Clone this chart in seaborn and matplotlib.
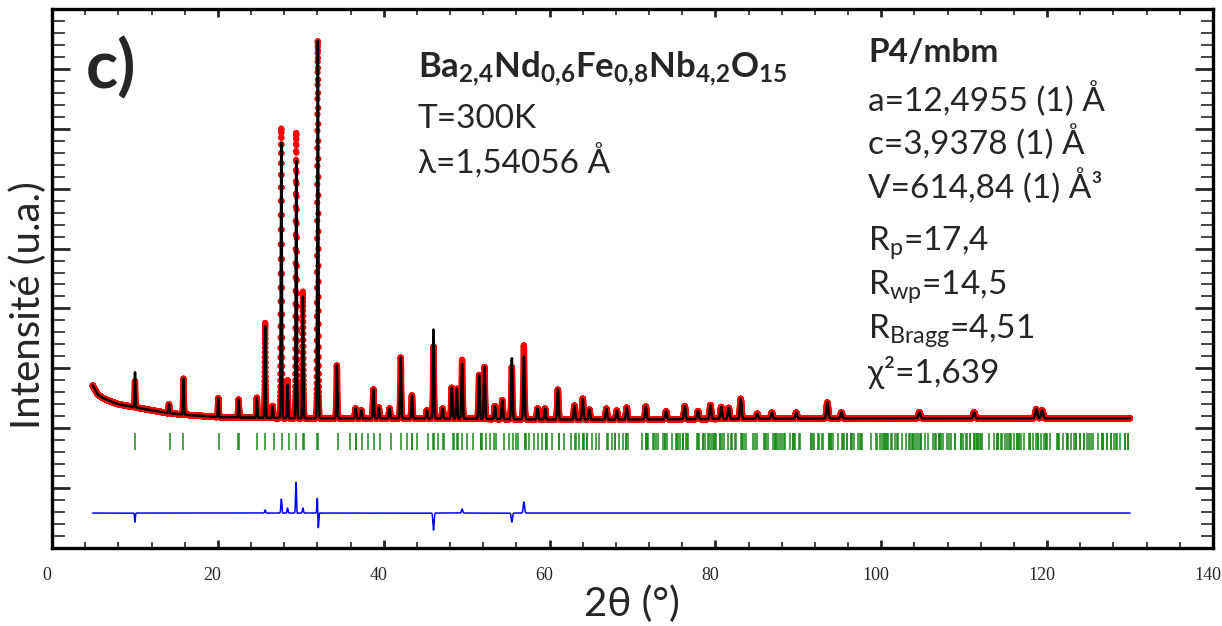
import numpy as np
import pandas as pd
import matplotlib
matplotlib.use("Agg")
import matplotlib.pyplot as plt
import matplotlib.transforms as mtransforms
from matplotlib.ticker import MultipleLocator
import seaborn as sns

# background (2theta in deg, counts)
bg_tt = [4.9, 5.5, 6.0, 7.0, 8.0, 10.0, 12.0, 14.0, 17.0, 20.0, 30.0, 45.0, 60.0, 70.0, 85.0, 100.0, 130.0]
bg_counts = [3430, 3130, 3030, 2900, 2800, 2700, 2600, 2500, 2430, 2370, 2330, 2330, 2290, 2290, 2320, 2330, 2330]

# peaks: position, calculated height, observed height (counts above background)
peak_pos = [10.0, 14.1, 15.85, 20.05, 22.5, 24.7, 25.7, 26.6, 27.65, 28.4,
            29.45, 30.25, 32.05, 34.35, 36.6, 37.3, 38.75, 39.4, 40.7, 42.05,
            43.4, 45.2, 46.0, 47.1, 48.2, 48.8, 49.45, 51.5, 52.15, 53.4,
            54.3, 55.45, 56.9, 58.55, 59.45, 61.0, 63.0, 64.0, 64.8, 66.85,
            68.1, 69.3, 71.6, 74.05, 76.3, 77.9, 79.4, 80.7, 81.6, 83.05,
            85.05, 86.8, 89.75, 93.5, 95.2, 104.6, 111.2, 118.7, 119.4]
calc_h = [1167, 300, 1200, 633, 600, 667, 3067, 400, 9200, 1100,
          8600, 4067, 12600, 1767, 333, 267, 967, 367, 333, 2033,
          767, 267, 2967, 333, 1033, 1000, 1833, 1467, 1733, 433,
          633, 2033, 2100, 367, 367, 1000, 467, 700, 333, 367,
          300, 400, 433, 267, 433, 267, 467, 400, 367, 667,
          167, 200, 200, 533, 200, 200, 200, 300, 267]
obs_h = [867, 300, 1200, 633, 600, 667, 3167, 400, 9667, 1267,
         9533, 4233, 12600, 1767, 333, 267, 967, 367, 333, 2033,
         767, 267, 2400, 333, 1033, 1000, 1967, 1467, 1733, 433,
         633, 1733, 2467, 367, 367, 1000, 467, 700, 333, 367,
         300, 400, 433, 267, 433, 267, 467, 400, 367, 667,
         167, 200, 200, 533, 200, 200, 200, 300, 267]
# small position misfit of the observed peaks (deg)
obs_shift = {32.05: -0.004, 29.45: -0.003}

# cell printed on the chart, used for the Bragg positions (P4/mbm)
a_cell, c_cell, wavelength = 12.4955, 3.9378, 1.54056
diff_offset = -833

bragg = []
for h in range(0, 16):
    for k in range(0, h + 1):
        for l in range(0, 6):
            if h == 0 and k == 0 and l == 0:
                continue
            if k == 0 and h % 2:   # h0l: h = 2n
                continue
            s = wavelength * np.sqrt((h * h + k * k) / a_cell ** 2 + l * l / c_cell ** 2) / 2
            if s < 1:
                tt = 2 * np.degrees(np.arcsin(s))
                if tt <= 130:
                    bragg.append(tt)

# profile
tt = np.arange(4.9, 130.0, 0.005)
background = np.interp(tt, bg_tt, bg_counts)
calc = background.copy()
obs = background.copy()
for p, hc, ho in zip(peak_pos, calc_h, obs_h):
    sig = 0.04 + 0.0007 * p
    calc += hc * np.exp(-0.5 * ((tt - p) / sig) ** 2)
    po = p + obs_shift.get(p, 0.0)
    obs += ho * np.exp(-0.5 * ((tt - po) / sig) ** 2)

df = pd.DataFrame({"tt": tt, "obs": obs, "calc": calc, "diff": obs - calc + diff_offset})

sns.set_style("ticks")
plt.rcParams["font.family"] = ["Lato", "Noto Sans", "DejaVu Sans"]
plt.rcParams["mathtext.fontset"] = "custom"
plt.rcParams["mathtext.rm"] = "Lato"
plt.rcParams["mathtext.it"] = "Lato:italic"
plt.rcParams["mathtext.bf"] = "Lato:bold"

fig = plt.figure(figsize=(12.22, 6.26), dpi=100)
ax = fig.add_axes([0.0426, 0.1246, 0.950, 0.861])

sns.scatterplot(data=df, x="tt", y="obs", s=20, color="red", edgecolor="none",
                linewidth=0, ax=ax, zorder=2)
sns.lineplot(data=df, x="tt", y="calc", color="black", lw=1.8, ax=ax, zorder=3,
             estimator=None)
sns.lineplot(data=df, x="tt", y="diff", color="blue", lw=1.1, ax=ax, zorder=3,
             estimator=None)
ax.vlines(bragg, 1267, 1833, color="#1a8c1a", lw=1.1, zorder=2)

ax.set_xlim(0, 140)
ax.set_ylim(-2000, 16000)
ax.xaxis.set_major_locator(MultipleLocator(20))
ax.xaxis.set_minor_locator(MultipleLocator(4))
ax.yaxis.set_major_locator(MultipleLocator(2000))
ax.yaxis.set_minor_locator(MultipleLocator(400))
ax.tick_params(axis="x", which="major", direction="in", length=6, width=2,
               top=True, bottom=True, pad=14, labelsize=13,
               labelfontfamily="Liberation Serif")
ax.tick_params(axis="x", which="minor", direction="in", length=4, width=1.2,
               top=True, bottom=True)
ax.tick_params(axis="y", which="major", direction="in", length=13, width=2,
               left=True, right=True, labelleft=False)
ax.tick_params(axis="y", which="minor", direction="in", length=9, width=1.2,
               left=True, right=True)
for sp in ax.spines.values():
    sp.set_linewidth(2.4)
    sp.set_color("black")
ax.set_xlabel("")
ax.set_ylabel("")

# the tick labels sit a little left of their ticks in the original
shift = mtransforms.ScaledTranslation(-0.055, 0, fig.dpi_scale_trans)
for lab in ax.xaxis.get_majorticklabels():
    lab.set_transform(lab.get_transform() + shift)


def fx(x):
    return x / 1222


def fy(y):
    return 1 - y / 626


fig.text(fx(632), fy(604), "2θ (°)", fontsize=29, ha="center", va="center")
fig.text(fx(28), fy(305), "Intensité (u.a.)", fontsize=29, ha="center", va="center",
         rotation=90)
fig.text(fx(86), fy(88), "c)", fontsize=48, fontweight="bold", ha="left", va="baseline")

fs = 24
fig.text(fx(418), fy(78),
         r"$\mathbf{Ba_{2{,}4}Nd_{0{,}6}Fe_{0{,}8}Nb_{4{,}2}O_{15}}$",
         fontsize=fs + 1, ha="left", va="baseline")
fig.text(fx(418), fy(128), "T=300K", fontsize=fs, ha="left", va="baseline")
fig.text(fx(418), fy(174), "λ=1,54056 Å", fontsize=fs, ha="left", va="baseline")

right_lines = [
    ("P4/mbm", 62, "bold"),
    ("a=12,4955 (1) Å", 111, "normal"),
    ("c=3,9378 (1) Å", 154, "normal"),
    ("V=614,84 (1) Å³", 198, "normal"),
    (r"R$_\mathrm{p}$=17,4", 250, "normal"),
    (r"R$_\mathrm{wp}$=14,5", 294, "normal"),
    (r"R$_\mathrm{Bragg}$=4,51", 338, "normal"),
    ("χ²=1,639", 383, "normal"),
]
for txt, yb, wt in right_lines:
    fig.text(fx(868), fy(yb), txt, fontsize=fs, fontweight=wt, ha="left", va="baseline")

fig.savefig("out.png", dpi=100)
